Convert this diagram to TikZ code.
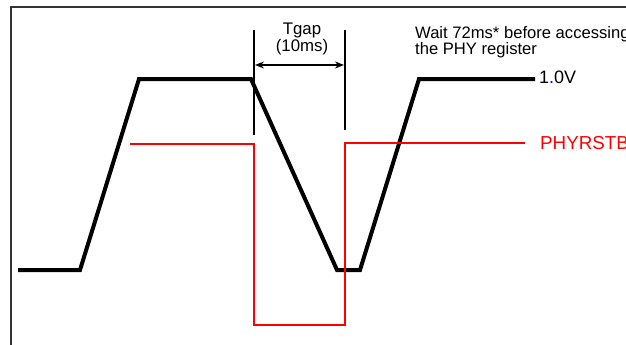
\documentclass[tikz,border=0pt]{standalone}
\usepackage{fontspec}
\setmainfont{Liberation Sans}
\usetikzlibrary{arrows.meta}
\begin{document}
\begin{tikzpicture}[x=1pt,y=-1pt,
  wave/.style={line width=4pt,line join=miter},
  rst/.style={red,line width=2pt},
  guide/.style={line width=2pt},
  lbl/.style={inner sep=0pt,anchor=base west,font=\fontsize{16.6}{18}\selectfont},
  lblc/.style={inner sep=0pt,anchor=base,font=\fontsize{16.8}{18}\selectfont}]
\useasboundingbox (0,0) rectangle (626,345);
\clip (0,0) rectangle (626,345);
% frame
\draw[line width=1.2pt,black!80] (11,345) -- (11,7) -- (626,7);
% supply waveform
\draw[wave] (18,270) -- (80,270) -- (139,79) -- (251,79) -- (337,270) -- (360,270) -- (419,79) -- (535,79);
% reset waveform
\draw[rst] (130,144) -- (254,144) -- (254,325) -- (345,325) -- (345,143) -- (525,143);
% guides
\coordinate (g1t) at (254,30);
\coordinate (g1b) at (254,135);
\coordinate (g2t) at (345,30);
\coordinate (g2b) at (345,130);
\draw[guide] (g1t) -- (g1b);
\draw[guide] (g2t) -- (g2b);
\coordinate (a1) at (255,65);
\coordinate (a2) at (344,65);
\draw[line width=1.5pt,{Stealth[length=9pt,width=7pt]}-{Stealth[length=9pt,width=7pt]}] (a1) -- (a2);
% labels
\node[lblc] (tgap) at (302,35) {Tgap};
\node[lblc] (tms) at (302,52) {(10ms)};
\node[lbl] (wait) at (415,38) {Wait 72ms* before accessing};
\node[lbl] (reg) at (415,55) {the PHY register};
\node[lbl,font=\fontsize{18}{18}\selectfont] (v) at (539,83) {1\textcolor{blue}{.}0V};
\node[lbl,red,font=\fontsize{18.8}{18}\selectfont] (phy) at (540,149) {PHYRSTB};
\end{tikzpicture}
\end{document}
